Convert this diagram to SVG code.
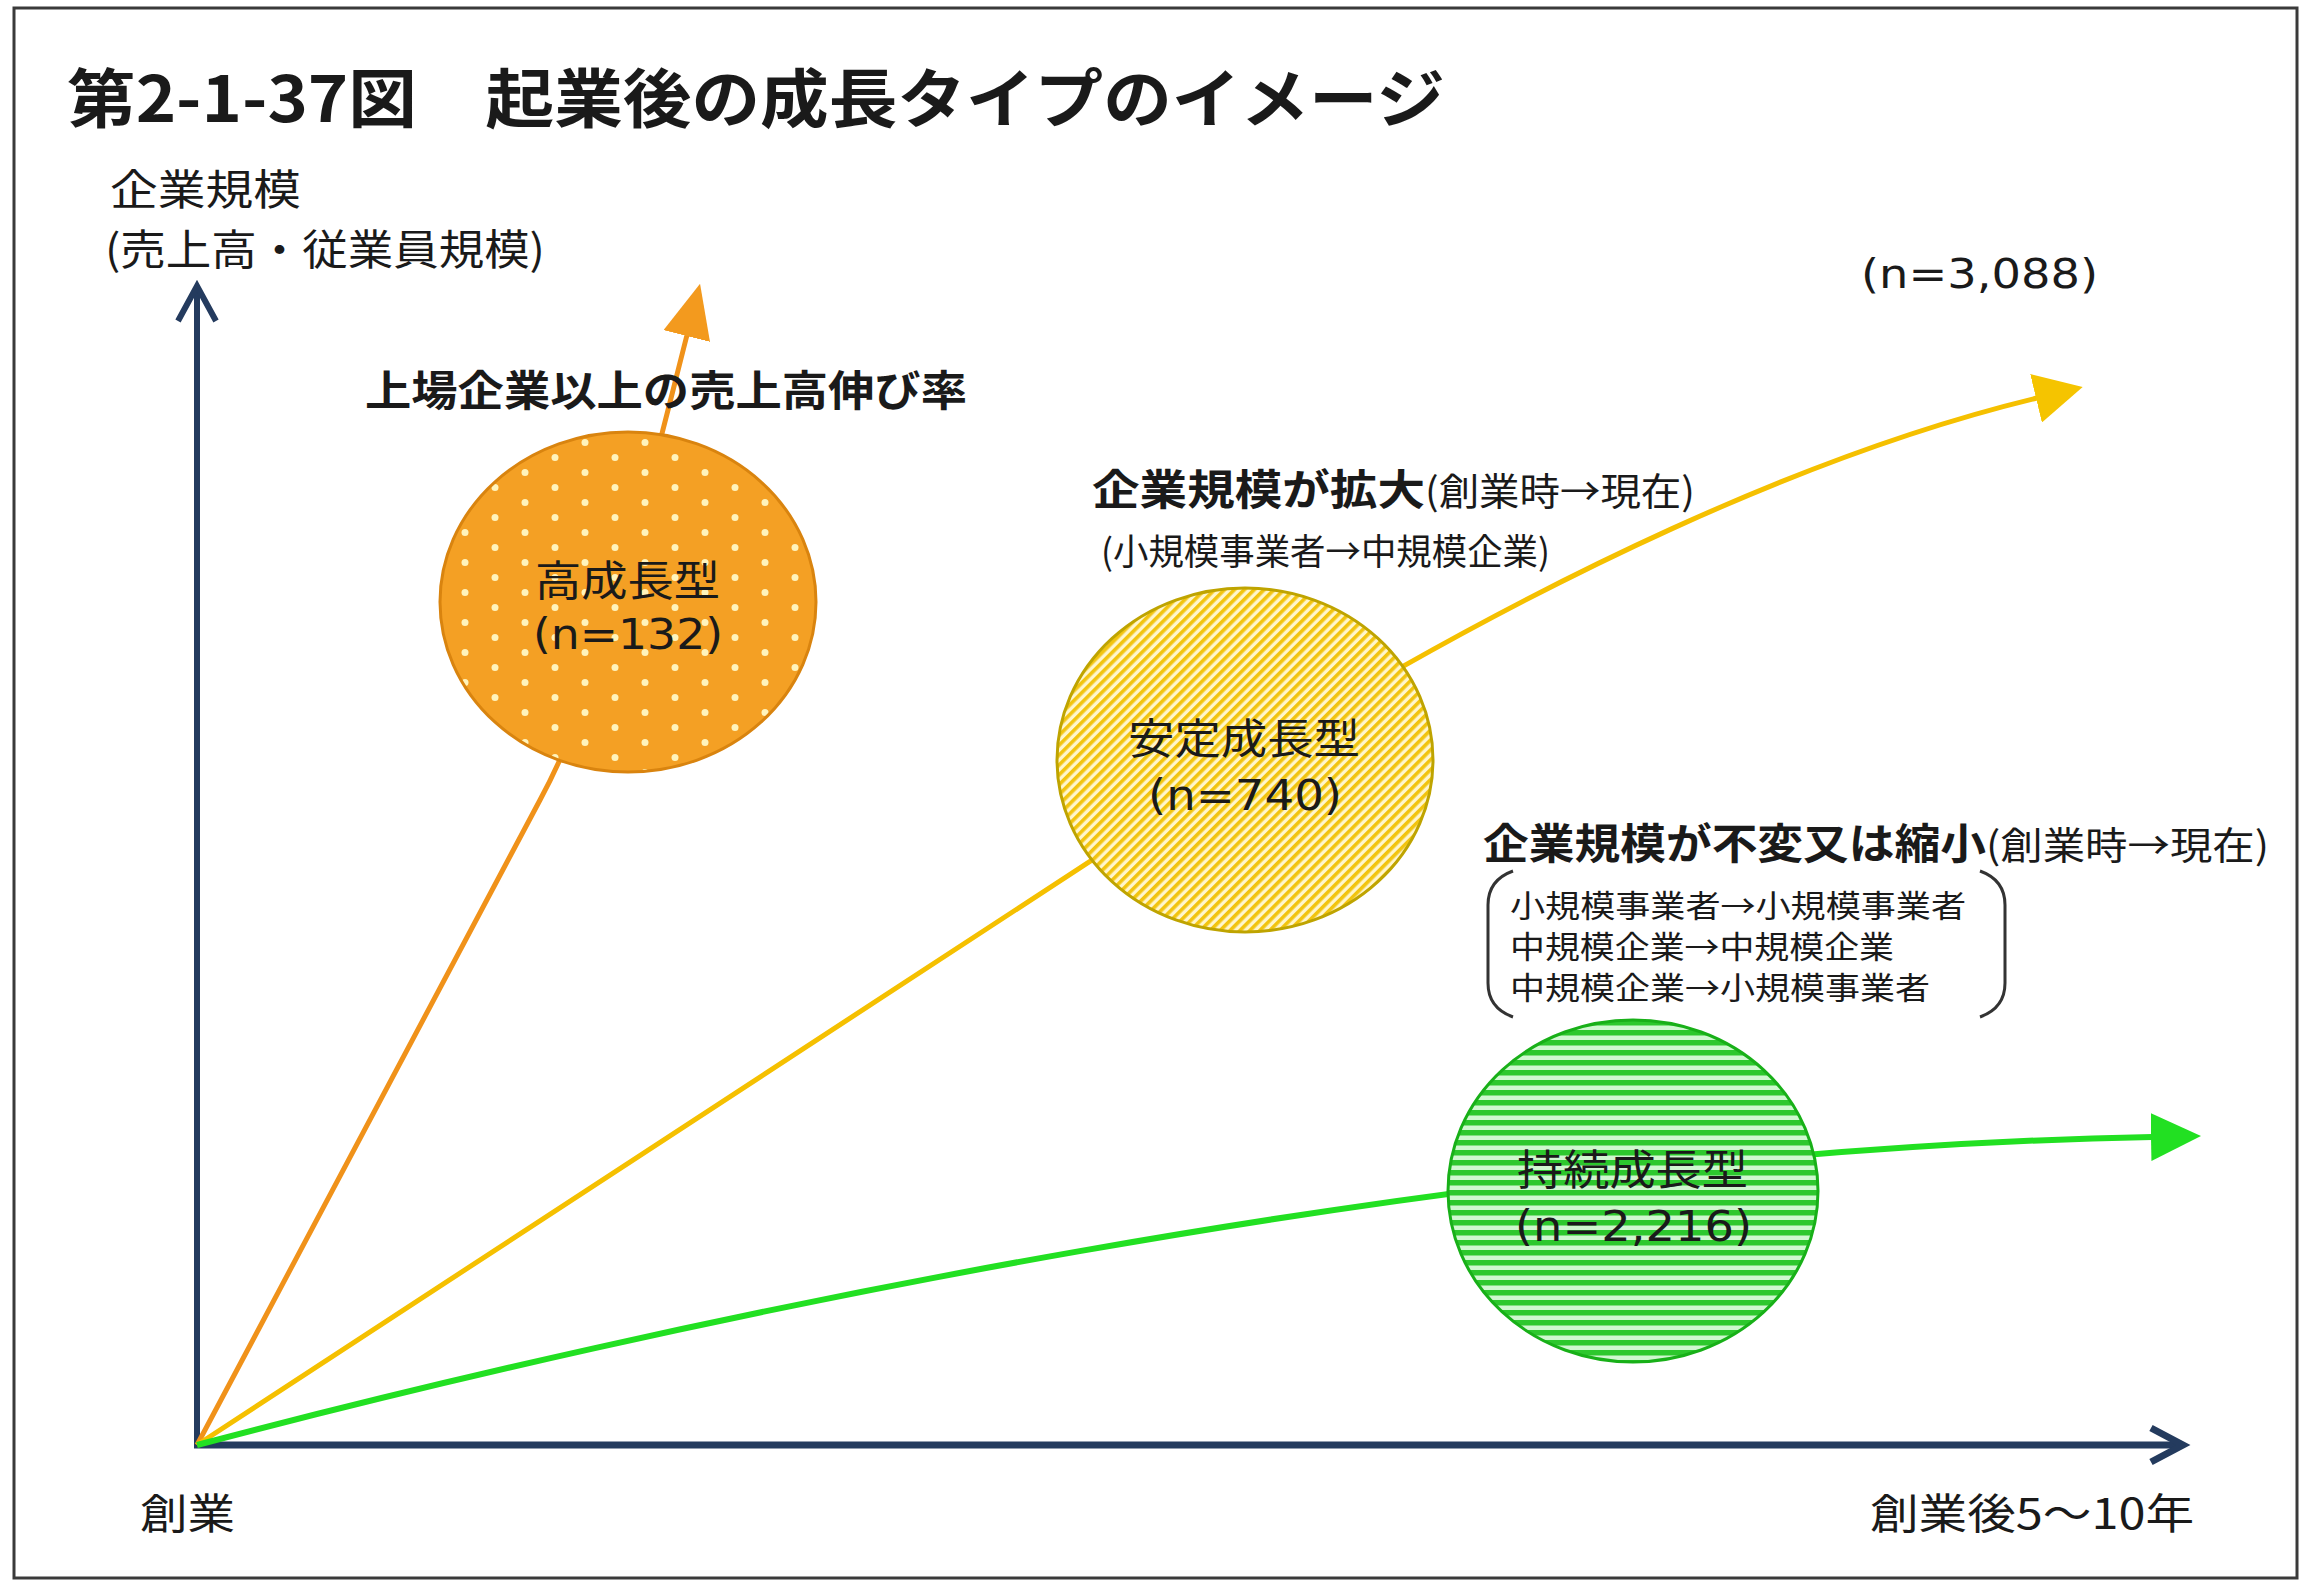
<svg xmlns="http://www.w3.org/2000/svg" width="2309" height="1581" viewBox="0 0 2309 1581">
  <style>
    .t { font-family: "Noto Sans CJK JP", "Noto Sans", sans-serif; fill: #1a1a1a; dominant-baseline: central; }
    .lat { font-family: "DejaVu Sans", "Noto Sans CJK JP", sans-serif; }
    .b { font-weight: 700; }
    .axis { fill: none; stroke: #243B5E; stroke-linecap: butt; }
    .bracket { fill: none; stroke: #333333; stroke-width: 3; }
  </style>
  <defs>
    <pattern id="dots" patternUnits="userSpaceOnUse" width="60" height="30">
      <rect width="60" height="30" fill="#F4A024"/>
      <circle cx="15" cy="7.5" r="3.5" fill="#FFF4BC"/>
      <circle cx="45" cy="22.5" r="3.5" fill="#FFF4BC"/>
    </pattern>
    <pattern id="diag" patternUnits="userSpaceOnUse" width="7" height="7" patternTransform="rotate(45)">
      <rect width="7" height="7" fill="#FFF6CC"/>
      <rect width="3.6" height="7" fill="#F2C40F"/>
    </pattern>
    <pattern id="horiz" patternUnits="userSpaceOnUse" width="10" height="10">
      <rect width="10" height="10" fill="#CFF7CF"/>
      <rect width="10" height="5.5" fill="#2DC82D"/>
    </pattern>
    <marker id="ah-orange" markerUnits="userSpaceOnUse" viewBox="0 0 54 48" markerWidth="54" markerHeight="48" refX="1" refY="24" orient="auto">
      <path d="M0,0 L54,24 L0,48 Z" fill="#F39A1E"/>
    </marker>
    <marker id="ah-yellow" markerUnits="userSpaceOnUse" viewBox="0 0 48 50" markerWidth="48" markerHeight="50" refX="1" refY="25" orient="auto">
      <path d="M0,0 L48,25 L0,50 Z" fill="#F5C400"/>
    </marker>
    <marker id="ah-green" markerUnits="userSpaceOnUse" viewBox="0 0 50 48" markerWidth="50" markerHeight="48" refX="1" refY="24" orient="auto">
      <path d="M0,0 L50,24 L0,48 Z" fill="#22E022"/>
    </marker>
  </defs>

  <rect x="0" y="0" width="2309" height="1581" fill="#ffffff"/>
  <rect id="frame" x="14" y="8" width="2283" height="1570" fill="none" stroke="#3a3a3a" stroke-width="3"/>

  <text id="title" class="t b" x="67" y="94" font-size="64" textLength="1378" lengthAdjust="spacingAndGlyphs">第2-1-37図　起業後の成長タイプのイメージ</text>

  <g id="axes">
    <line class="axis" x1="197" y1="1448" x2="197" y2="288" stroke-width="6"/>
    <polyline class="axis" points="178,321 197,286 216,321" stroke-width="6"/>
    <line class="axis" x1="194" y1="1445" x2="2182" y2="1445" stroke-width="7"/>
    <polyline class="axis" points="2151,1428 2183,1445 2151,1462" stroke-width="7"/>
    <text id="y-label-1" class="t" x="110" y="186" font-size="42" textLength="191" lengthAdjust="spacingAndGlyphs">企業規模</text>
    <text id="y-label-2" class="t" x="105" y="246" font-size="42" textLength="440" lengthAdjust="spacingAndGlyphs">(売上高・従業員規模)</text>
    <text id="x-label-start" class="t" x="140" y="1510" font-size="42" textLength="95" lengthAdjust="spacingAndGlyphs">創業</text>
    <text id="x-label-end" class="t" x="1870" y="1510" font-size="42" textLength="324" lengthAdjust="spacingAndGlyphs">創業後5〜10年</text>
  </g>

  <g id="connectors">
    <path id="line-high" d="M197,1445 L540,800 C600,690 640,520 687,335" fill="none" stroke="#F0921A" stroke-width="5" marker-end="url(#ah-orange)"/>
    <path id="line-stable" d="M197,1445 L1245,760 C1545,574 1817,451 2037,398" fill="none" stroke="#F5C000" stroke-width="5" marker-end="url(#ah-yellow)"/>
    <path id="line-sustained" d="M197,1445 C650,1325 1450,1150 2152,1137" fill="none" stroke="#22E022" stroke-width="6" marker-end="url(#ah-green)"/>
  </g>

  <g id="node-high">
    <ellipse cx="628" cy="602" rx="188" ry="170" fill="url(#dots)" stroke="#D9840F" stroke-width="3"/>
    <text class="t" x="535" y="577" font-size="42" textLength="185" lengthAdjust="spacingAndGlyphs">高成長型</text>
    <text class="t lat" x="533" y="634" font-size="42" textLength="190" lengthAdjust="spacingAndGlyphs">(n=132)</text>
  </g>

  <g id="node-stable">
    <ellipse cx="1245" cy="760" rx="188" ry="172" fill="url(#diag)" stroke="#BFA400" stroke-width="3"/>
    <text class="t" x="1128" y="735" font-size="42" textLength="232" lengthAdjust="spacingAndGlyphs">安定成長型</text>
    <text class="t lat" x="1148" y="795" font-size="42" textLength="194" lengthAdjust="spacingAndGlyphs">(n=740)</text>
  </g>

  <g id="node-sustained">
    <ellipse cx="1633" cy="1191" rx="185" ry="171" fill="url(#horiz)" stroke="#18B018" stroke-width="3"/>
    <text class="t" x="1517" y="1166" font-size="42" textLength="231" lengthAdjust="spacingAndGlyphs">持続成長型</text>
    <text class="t lat" x="1515" y="1226" font-size="42" textLength="237" lengthAdjust="spacingAndGlyphs">(n=2,216)</text>
  </g>

  <g id="label-listed">
    <text class="t b" x="365" y="387" font-size="42" textLength="602" lengthAdjust="spacingAndGlyphs">上場企業以上の売上高伸び率</text>
  </g>

  <g id="label-total">
    <text class="t lat" x="1861" y="274" font-size="40" textLength="237" lengthAdjust="spacingAndGlyphs">(n=3,088)</text>
  </g>

  <g id="label-expand">
    <text class="t b" x="1092" y="486" font-size="42" textLength="333" lengthAdjust="spacingAndGlyphs">企業規模が拡大</text>
    <text class="t" x="1425" y="488" font-size="38" textLength="270" lengthAdjust="spacingAndGlyphs">(創業時→現在)</text>
    <text class="t" x="1101" y="549" font-size="36" textLength="449" lengthAdjust="spacingAndGlyphs">(小規模事業者→中規模企業)</text>
  </g>

  <g id="label-shrink">
    <text class="t b" x="1483" y="840" font-size="42" textLength="503" lengthAdjust="spacingAndGlyphs">企業規模が不変又は縮小</text>
    <text class="t" x="1986" y="842" font-size="38" textLength="283" lengthAdjust="spacingAndGlyphs">(創業時→現在)</text>
    <path class="bracket" d="M1513,871 Q1488,880 1488,905 L1488,983 Q1488,1008 1513,1017"/>
    <path class="bracket" d="M1980,871 Q2005,880 2005,905 L2005,983 Q2005,1008 1980,1017"/>
    <text class="t" x="1510" y="903" font-size="31" textLength="456" lengthAdjust="spacingAndGlyphs">小規模事業者→小規模事業者</text>
    <text class="t" x="1510" y="944" font-size="31" textLength="384" lengthAdjust="spacingAndGlyphs">中規模企業→中規模企業</text>
    <text class="t" x="1510" y="985" font-size="31" textLength="420" lengthAdjust="spacingAndGlyphs">中規模企業→小規模事業者</text>
  </g>
</svg>
